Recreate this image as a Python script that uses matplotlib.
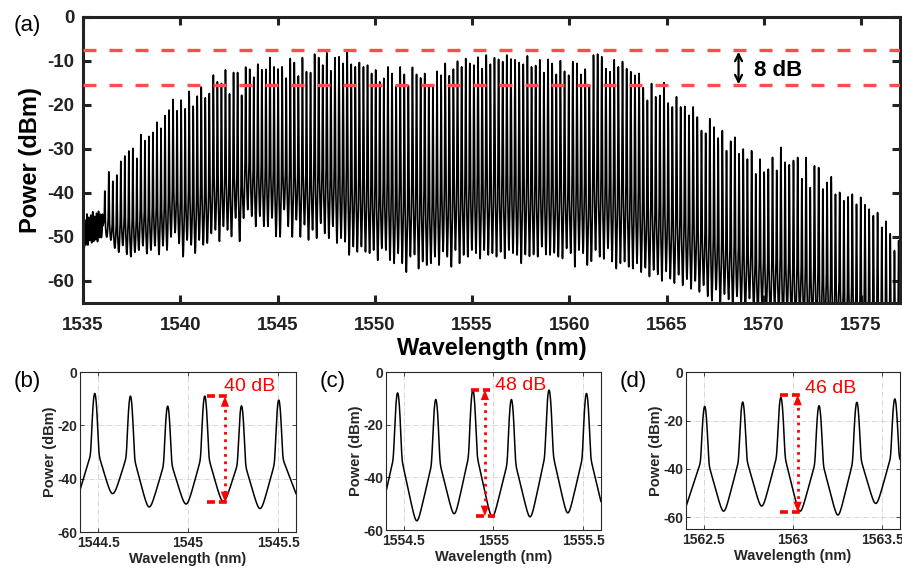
import numpy as np
import matplotlib.pyplot as plt

plt.rcParams['font.family'] = ['Liberation Sans', 'DejaVu Sans']
plt.rcParams['axes.unicode_minus'] = False

# ---- (a) full comb: first line, line spacing, peak / valley powers
comb_start = 1536.12      # nm
comb_spacing = 26.17      # GHz
comb_peaks = [
    -41, -36, -38.2, -36.6, -33.3, -32, -30.8, -30.2, -32.6, -27, -28.4, -27.4, -26.5, -24.1, -25.5, -22.6, -21.3,
    -18.9, -21.5, -19, -21, -17, -20.4, -18.1,
    -16, -18.5, -17.5, -13.3, -14.8, -15.2, -12.1, -17.6, -12.7, -12.7, -17.9, -11.5, -12, -13.8, -10.8, -12.1,
    -12, -9.3, -11.4, -11.9,
    -11.4, -14, -9.5, -10.4, -13.5, -9.3, -12.5, -12.7, -8.5, -9.3, -11, -8.2, -12.3, -9.3, -9.1, -10.6, -7.7,
    -10.8, -11.4, -10.4, -11.4, -11, -12.9, -12.1, -14.8, -14, -11.4,
    -12.9, -15.8, -11.4, -13.1, -15.7, -11.5, -13.1, -13.9, -12.9, -15.8, -15.8, -12.4, -13.3, -10.6, -13.4,
    -11.9, -10.1, -11.4, -9.5, -10.6, -11, -9.2, -11.8, -8.7, -10.8,
    -9.3, -9.7, -10.2, -8.7, -9.6, -9.8, -10.4, -10.8, -8.9, -11.4, -11.1, -9.8, -12.7, -9.7, -10.6, -13.1,
    -10, -12.4, -13.3, -10.2, -10.6, -13.1, -11.9, -15.6,
    -8.7, -8.5, -9.1, -11.8, -12.5, -9.8, -11.4, -10.2, -11.8, -12.5,
    -13.3, -12.9, -16.1, -19, -15.2, -18.2, -17.9, -15, -19.6, -20.5,
    -18.2, -20.5, -20.4, -22.4, -20.5, -22.8, -25.9, -26.5, -23.2, -25.1,
    -27.6, -25.9, -30.5, -28.3, -27.4, -31.2, -30.1, -32.4, -30.5, -35.8,
    -32.4, -35.4, -34.7, -32, -35, -29.7, -33.1, -33.7, -32.7, -32,
    -36.9, -32, -38.9, -33.9, -34.3, -39.2, -37.7, -36.4, -40.4, -40,
    -41.9, -41, -40.4, -42.7, -41.1, -42.8, -43.8, -45.3, -44.6, -48,
    -46.6, -49.5, -53.4, -51.1,
]
comb_valleys = [
    -51,
    -52, -51.5, -53, -53.7, -52, -54, -54.5, -53.5, -53, -52, -53.8, -53, -52, -54, -52, -53, -50, -49,
    -51.5, -54.5, -50.7, -51.8, -53.7, -50.7, -51.8, -51.4, -49.2, -48.4, -51, -47.6, -48.4, -49.9, -45.7,
    -51, -45.7, -43.8, -45.3, -47.6, -45.3, -47.6, -47.6, -45.7, -49.9,
    -50, -43.8, -47.6, -50, -46.1, -50, -47.2, -50.7, -48.4, -50.3, -46.9, -49.2, -50.3, -47.6, -51.4, -50.3,
    -51.1, -54.1, -52.2, -53.4, -52.2, -53.4, -53.7, -53, -55.3, -52.6, -53,
    -55.3, -56, -53.7, -56, -58, -54.5, -54, -57.2, -55.6, -56.4, -56, -54.5, -56.4, -53.3, -54.5, -56.8,
    -53, -56, -54.1, -54.5, -53, -53.7, -54.9, -53, -54.1,
    -53.7, -54.5, -53.4, -54.9, -53, -53.7, -54.1, -56, -54, -54.4, -54, -54.5, -52.2, -54, -54.1, -53.6,
    -54.5, -54.9, -52.6, -53.7, -56.8, -53, -53.7, -56.4,
    -55.5, -53, -54.5, -55, -52.6, -55.6, -57.2, -56, -55.6, -56.8,
    -57.2, -56, -58, -57, -59, -57.5, -58.5, -60, -57.8, -59.5,
    -60.5, -58.6, -61, -59.6, -61.8, -60, -62.5, -61, -63.5, -64.5,
    -62, -65.5, -63, -64.2, -66, -63.5, -65.5, -67, -64, -66.5,
    -68, -65.5, -67, -69, -66, -68, -70, -67, -69, -71,
    -68, -70, -72, -69, -71, -73, -70, -72, -74, -71,
    -73, -75, -72, -74, -76, -73, -75, -77, -74, -76,
    -78, -75, -77, -79, -78,
]
# noisy ripple below 1536 nm
ripple_start = 1535.0
ripple_step = 0.1
ripple_peaks = [-44, -48.5, -47, -48, -47.5, -46.5, -48, -47, -46.5, -47.5, -48]
ripple_valleys = [-50, -53, -52, -52.5, -51, -52, -51.5, -51, -52, -51, -52.5, -51]

flat_top = -7.5
flat_bottom = -15.5

# ---- insets: line centres, peaks, valleys (edge valleys first/last)
b_lines = [1544.482, 1544.68, 1544.887, 1545.093, 1545.297, 1545.504]
b_peaks = [-8.1, -9.1, -12.9, -9.1, -12.75, -10.6]
b_valleys = [-48, -45.6, -50.6, -49.5, -48.5, -51.2, -47]

c_lines = [1554.465, 1554.678, 1554.885, 1555.1, 1555.31, 1555.519]
c_peaks = [-8, -10.5, -6.9, -10.5, -6.9, -8.2]
c_valleys = [-58, -56.5, -53.8, -55, -55, -53.5, -56]

d_lines = [1562.505, 1562.718, 1562.932, 1563.146, 1563.358, 1563.571]
d_peaks = [-14.2, -12.4, -10.5, -13.9, -12.5, -11.1]
d_valleys = [-56, -57.5, -55.4, -57.5, -59.1, -54.3, -55]

C_NM_THZ = 299792.458


def comb_lines(start_nm, spacing_ghz, n):
    f0 = C_NM_THZ / start_nm
    return C_NM_THZ / (f0 - np.arange(n) * spacing_ghz * 1e-3)


def trace_db(x, centers, peaks, valleys, sigma=0.0065):
    centers = np.asarray(centers, float)
    gaps = np.diff(centers)
    half_l = np.r_[gaps[0], gaps] / 2
    half_r = np.r_[gaps, gaps[-1]] / 2
    n = len(centers)
    p = np.zeros_like(x)
    for k in range(n):
        d = x - centers[k]
        pk = peaks[k]
        vl, vr = valleys[k], valleys[k + 1]
        tl = vl if k == 0 else vl - 3
        tr = vr if k == n - 1 else vr - 3
        sh = pk - min(18, 0.45 * (pk - min(vl, vr)))
        sl = max(sh - tl, 1.0) / half_l[k]
        sr = max(sh - tr, 1.0) / half_r[k]
        db = np.where(d < 0, sh + sl * d, sh - sr * d)
        p += 10 ** (pk / 10) * np.exp(-0.5 * (d / sigma) ** 2) + 10 ** (db / 10)
    return 10 * np.log10(p)


fig = plt.figure(figsize=(9.02, 5.72), dpi=100)

# ---------------- (a)
ax = fig.add_axes([0.0920, 0.4703, 0.9058, 0.5])
x = np.arange(1535.0, 1577.0005, 0.001)
lines_a = comb_lines(comb_start, comb_spacing, len(comb_peaks))
pa = 10 ** (trace_db(x, lines_a, comb_peaks, comb_valleys, sigma=0.009) / 10)
pr = 10 ** (trace_db(x, ripple_start + ripple_step * np.arange(len(ripple_peaks)),
                     ripple_peaks, ripple_valleys) / 10)
ax.plot(x, 10 * np.log10(pa + pr), color='k', lw=1.2)

for lvl in [flat_top, flat_bottom]:
    ax.plot([1535, 1577], [lvl, lvl], color='#ff4c4c', lw=2.4, linestyle=(0, (3.9, 3.9)), zorder=3)
ax.annotate('', xy=(1568.7, -7.9), xytext=(1568.7, -15.3),
            arrowprops=dict(arrowstyle='<->,head_length=0.5,head_width=0.25', color='k', lw=1.6,
                            shrinkA=0, shrinkB=0))
ax.text(1569.5, -12.2, '8 dB', fontsize=16, fontweight='bold', ha='left', va='center')

ax.set_xlim(1535, 1577)
ax.set_ylim(-65, 0)
ax.set_xticks(np.arange(1535, 1576, 5))
ax.set_yticks(np.arange(-60, 1, 10))
ax.tick_params(direction='in', length=6, width=2.2, top=True, right=True,
               labelsize=13.5, pad=10, colors='#222222')
ax.tick_params(axis='y', pad=6)
for lab in ax.get_xticklabels() + ax.get_yticklabels():
    lab.set_fontweight('bold')
for s in ax.spines.values():
    s.set_linewidth(2.2)
    s.set_color('#222222')
ax.set_xlabel('Wavelength (nm)', fontsize=17, fontweight='bold', labelpad=2)
ax.set_ylabel('Power (dBm)', fontsize=17, fontweight='bold', labelpad=4)
fig.text(27 / 902, 1 - 26 / 572, '(a)', fontsize=16, ha='center', va='center')

# ---------------- insets
insets = [
    ([0.0887, 0.0699, 0.2395, 0.2797], b_lines, b_peaks, b_valleys, (1544.4, 1545.6), (-60, 0),
     [1544.5, 1545, 1545.5], ['1544.5', '1545', '1545.5'],
     (1545.108, 1545.218, -9.1), (1545.108, 1545.218, -48.75), 1545.205, (1545.2, -5.6), '40 dB', '(b)', 27),
    ([0.4279, 0.0734, 0.2384, 0.2762], c_lines, c_peaks, c_valleys, (1554.4, 1555.6), (-60, 0),
     [1554.5, 1555, 1555.5], ['1554.5', '1555', '1555.5'],
     (1554.876, 1554.981, -6.7), (1554.904, 1555.011, -54.7), 1554.952, (1555.011, -5.0), '48 dB', '(c)', 333),
    ([0.7605, 0.0747, 0.2373, 0.2745], d_lines, d_peaks, d_valleys, (1562.4, 1563.6), (-65, 0),
     [1562.5, 1563, 1563.5], ['1562.5', '1563', '1563.5'],
     (1562.928, 1563.039, -9.35), (1562.928, 1563.039, -57.9), 1563.026, (1563.067, -6.6), '46 dB', '(d)', 633),
]

for (pos, lns, pks, vls, xl, yl, xt, xtl, top, bot, ax_x, txt_xy, txt, tag, tag_x) in insets:
    ai = fig.add_axes(pos)
    xi = np.arange(xl[0], xl[1], 0.0005)
    ai.plot(xi, trace_db(xi, lns, pks, vls), color='k', lw=1.1)
    ai.set_xlim(*xl)
    ai.set_ylim(*yl)
    ai.set_xticks(xt)
    ai.set_xticklabels(xtl)
    ai.set_yticks([-60, -40, -20, 0])
    ai.grid(True, linestyle='-.', color='#d0d0d0', lw=0.6)
    ai.tick_params(direction='in', length=3, width=0.6, top=True, right=True,
                   labelsize=10, pad=3, colors='#262626')
    ai.tick_params(axis='y', pad=2)
    for lab in ai.get_xticklabels() + ai.get_yticklabels():
        lab.set_fontweight('bold')
    for s in ai.spines.values():
        s.set_linewidth(0.8)
        s.set_color('#262626')
    ai.set_xlabel('Wavelength (nm)', fontsize=10.5, fontweight='bold', labelpad=1, color='#262626')
    ai.set_ylabel('Power (dBm)', fontsize=10.5, fontweight='bold', labelpad=0, color='#262626')

    # red marker: two dashed levels and a dotted double arrow
    ai.plot([top[0], top[1]], [top[2], top[2]], color='red', lw=2.6, dashes=(2.2, 1.1),
            solid_capstyle='butt')
    ai.plot([bot[0], bot[1]], [bot[2], bot[2]], color='red', lw=2.6, dashes=(2.2, 1.1),
            solid_capstyle='butt')
    ai.plot([ax_x, ax_x], [top[2] - 2, bot[2] + 2], color='red', lw=2, linestyle=':')
    for y_tip, y_from in [(top[2], top[2] - 6), (bot[2], bot[2] + 6)]:
        ai.annotate('', xy=(ax_x, y_tip), xytext=(ax_x, y_from),
                    arrowprops=dict(arrowstyle='-|>,head_length=0.75,head_width=0.3', color='red',
                                    lw=0, mutation_scale=10, shrinkA=0, shrinkB=0))
    ai.text(txt_xy[0], txt_xy[1], txt, color='red', fontsize=14, ha='left', va='center')
    fig.text(tag_x / 902, 1 - 382 / 572, tag, fontsize=16, ha='center', va='center')

fig.savefig('out.png', dpi=100)
